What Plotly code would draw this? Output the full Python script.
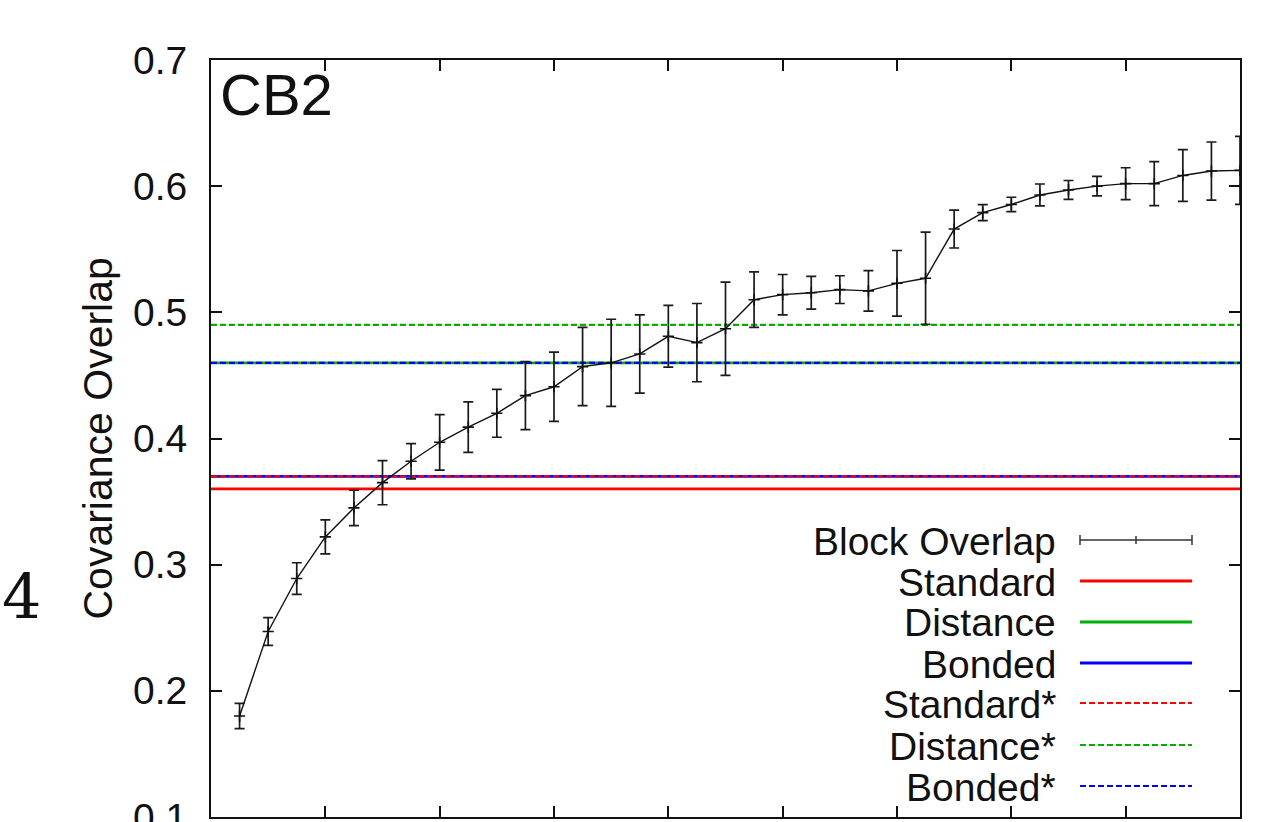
import plotly.graph_objects as go

# ---------------- data ----------------
block_x = list(range(1, 37))
block_y = [0.180, 0.247, 0.289, 0.322, 0.345, 0.365, 0.382, 0.397, 0.409, 0.420,
           0.434, 0.441, 0.457, 0.460, 0.467, 0.481, 0.476, 0.487, 0.510, 0.514,
           0.5155, 0.518, 0.517, 0.523, 0.527, 0.566, 0.579, 0.5855, 0.593, 0.597,
           0.600, 0.602, 0.602, 0.6085, 0.612, 0.6125]
block_err = [0.010, 0.011, 0.0125, 0.0135, 0.014, 0.0175, 0.014, 0.022, 0.020, 0.019,
             0.027, 0.0275, 0.031, 0.0345, 0.031, 0.0245, 0.031, 0.037, 0.022, 0.016,
             0.013, 0.011, 0.016, 0.026, 0.0365, 0.015, 0.0063, 0.0057, 0.0087, 0.0075,
             0.0077, 0.0126, 0.0175, 0.0205, 0.023, 0.027]

ref_names = ["Standard", "Distance", "Bonded", "Standard*", "Distance*", "Bonded*"]
ref_values = [0.360, 0.460, 0.370, 0.370, 0.490, 0.460]
ref_colors = ["#ff0000", "#00b000", "#0000ff", "#ff0000", "#00b000", "#0000ff"]
ref_dashed = [False, False, False, True, True, True]

x_range = [0, 36]
y_range = [0.1, 0.7]
y_ticks = [0.1, 0.2, 0.3, 0.4, 0.5, 0.6, 0.7]
y_ticklabels = ["0.1", "0.2", "0.3", "0.4", "0.5", "0.6", "0.7"]

panel_label = "CB2"
figure_number = "4"
y_title = "Covariance Overlap"

# ---------------- layout constants ----------------
W, H = 1272, 822
L, R, T, B = 211, 1240, 60, 817
FONT = "Liberation Sans, Arial, sans-serif"
FS = 39


def px_x(p):
    return (p - L) / (R - L)


def px_y(p):
    return (B - p) / (B - T)


fig = go.Figure()

for name, v, c, d in zip(ref_names, ref_values, ref_colors, ref_dashed):
    fig.add_trace(go.Scatter(
        x=x_range, y=[v, v], mode="lines", name=name, showlegend=False,
        line=dict(color=c, width=2.2 if d else 2.8, dash="6px,3px" if d else "solid"),
        hoverinfo="skip"))

fig.add_trace(go.Scatter(
    x=block_x, y=block_y, mode="lines+markers", name="Block Overlap", showlegend=False,
    line=dict(color="#111111", width=1.4),
    marker=dict(symbol="cross-thin", size=8, color="#111111",
                line=dict(color="#111111", width=1.6)),
    error_y=dict(type="data", array=block_err, visible=True,
                 color="#1a1a1a", thickness=1.7, width=5)))

# ---------------- custom legend ----------------
shapes = []
annotations = []
row_y = [540, 581, 622, 663, 703, 745, 786]
leg_names = ["Block Overlap"] + ref_names
sx0, sx1 = 1080, 1192
text_right = 1058
for i, (nm, ry) in enumerate(zip(leg_names, row_y)):
    annotations.append(dict(
        x=px_x(text_right), y=px_y(ry + 1), xref="paper", yref="paper",
        text=nm, showarrow=False, xanchor="right", yanchor="middle",
        font=dict(family=FONT, size=FS, color="#111111")))
    if i == 0:
        shapes.append(dict(type="line", xref="paper", yref="paper",
                           x0=px_x(sx0), x1=px_x(sx1), y0=px_y(ry), y1=px_y(ry),
                           line=dict(color="#333333", width=1.5)))
        for xx, hh in [(sx0, 5), (sx1, 5), ((sx0 + sx1) / 2, 4)]:
            shapes.append(dict(type="line", xref="paper", yref="paper",
                               x0=px_x(xx), x1=px_x(xx), y0=px_y(ry - hh), y1=px_y(ry + hh),
                               line=dict(color="#333333", width=1.5)))
    else:
        j = i - 1
        shapes.append(dict(type="line", xref="paper", yref="paper",
                           x0=px_x(sx0), x1=px_x(sx1), y0=px_y(ry), y1=px_y(ry),
                           line=dict(color=ref_colors[j],
                                     width=2.2 if ref_dashed[j] else 2.8,
                                     dash="6px,3px" if ref_dashed[j] else "solid")))

annotations.append(dict(
    x=px_x(218), y=px_y(95), xref="paper", yref="paper", text=panel_label,
    showarrow=False, xanchor="left", yanchor="middle",
    font=dict(family=FONT, size=58, color="#111111")))
annotations.append(dict(
    x=px_x(97), y=0.5, xref="paper", yref="paper", text=y_title, textangle=-90,
    showarrow=False, xanchor="center", yanchor="middle",
    font=dict(family=FONT, size=41, color="#111111")))
annotations.append(dict(
    x=px_x(21), y=px_y(596), xref="paper", yref="paper", text=figure_number,
    showarrow=False, xanchor="center", yanchor="middle",
    font=dict(family="DejaVu Serif, Liberation Serif, serif", size=62, color="#111111")))

axis_common = dict(showgrid=False, zeroline=False, showline=True, linecolor="#111111",
                   linewidth=2, ticks="inside", ticklen=11, tickwidth=1.5,
                   tickcolor="#111111", mirror="allticks", automargin=False)

fig.update_layout(
    width=W, height=H, autosize=False,
    margin=dict(l=L, r=W - R, t=T, b=H - B, pad=0, autoexpand=False),
    paper_bgcolor="white", plot_bgcolor="white",
    showlegend=False,
    xaxis=dict(range=x_range, tick0=0, dtick=4, showticklabels=False, **axis_common),
    yaxis=dict(range=y_range, tickvals=y_ticks, ticktext=y_ticklabels,
               tickfont=dict(family=FONT, size=FS, color="#111111"),
               ticklabelstandoff=14, ticklabeloverflow="allow", **axis_common),
    shapes=shapes, annotations=annotations,
)

fig.write_html("out.html")
